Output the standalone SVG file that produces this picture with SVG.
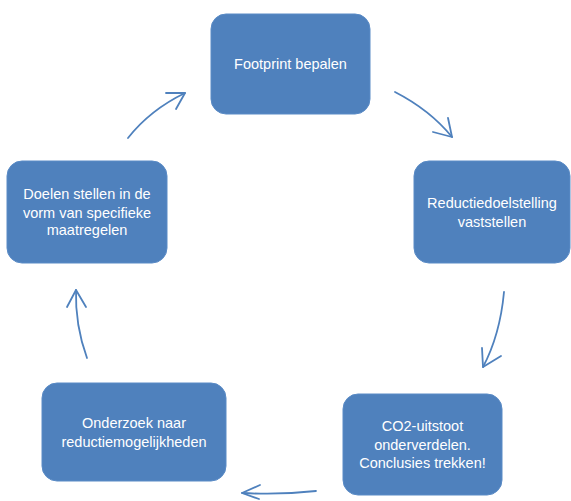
<svg xmlns="http://www.w3.org/2000/svg" width="571" height="501" viewBox="0 0 571 501">
<style>
.box{fill:#4F81BD;stroke:#5a8bc6;stroke-width:1}
.lbl{font-family:"Liberation Sans",Arial,sans-serif;font-size:14.5px;fill:#ffffff;text-anchor:middle}
.arr{fill:none;stroke:#4F81BD;stroke-width:1.8;stroke-linecap:round;stroke-linejoin:round}
</style>
<rect width="571" height="501" fill="#ffffff"/>
<g id="n1"><rect class="box" x="211" y="14" width="159" height="100" rx="15"/><text class="lbl" x="290.5" y="69">Footprint bepalen</text></g>
<g id="n2"><rect class="box" x="414" y="161" width="156" height="102" rx="15"/><text class="lbl" x="492" y="208">Reductiedoelstelling</text><text class="lbl" x="492" y="227">vaststellen</text></g>
<g id="n3"><rect class="box" x="343" y="394" width="159" height="101" rx="15"/><text class="lbl" x="422.5" y="431">CO2-uitstoot</text><text class="lbl" x="422.5" y="450">onderverdelen.</text><text class="lbl" x="422.5" y="468">Conclusies trekken!</text></g>
<g id="n4"><rect class="box" x="42" y="383" width="184" height="98" rx="15"/><text class="lbl" x="134" y="428">Onderzoek naar</text><text class="lbl" x="134" y="447">reductiemogelijkheden</text></g>
<g id="n5"><rect class="box" x="7" y="161" width="160" height="102" rx="15"/><text class="lbl" x="87" y="199">Doelen stellen in de</text><text class="lbl" x="87" y="218">vorm van specifieke</text><text class="lbl" x="87" y="235">maatregelen</text></g>
<g id="connectors">
<path class="arr" d="M395,92 Q430,110 452,137"/><polyline class="arr" points="433,132 452,137 448,118"/>
<path class="arr" d="M504,292 Q500,335 483,367"/><polyline class="arr" points="482,348 483,367 501,356"/>
<path class="arr" d="M316,491 Q280,495 242,493"/><polyline class="arr" points="260,485 242,493 259,499"/>
<path class="arr" d="M87,358 Q75,325 76,290"/><polyline class="arr" points="67,307 76,290 86,307"/>
<path class="arr" d="M128,138 Q150,110 185,93"/><polyline class="arr" points="166,93 185,93 176,109"/>
</g>
</svg>
